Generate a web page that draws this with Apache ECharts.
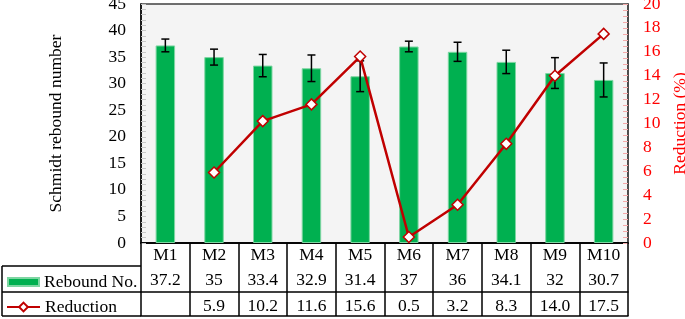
<!DOCTYPE html>
<html>
<head>
<meta charset="utf-8">
<script src="https://cdn.jsdelivr.net/npm/echarts@6/dist/echarts.min.js"></script>
<style>
  html, body { margin: 0; padding: 0; background: #fff; }
  #chart { width: 685px; height: 319px; }
</style>
</head>
<body>
<div id="chart"></div>
<script>
// categories and values
const mixes = ["M1", "M2", "M3", "M4", "M5", "M6", "M7", "M8", "M9", "M10"];
const reboundNo = [37.2, 35, 33.4, 32.9, 31.4, 37, 36, 34.1, 32, 30.7];
const reboundErr = [1.2, 1.5, 2.1, 2.5, 2.9, 1.0, 1.8, 2.2, 2.9, 3.2];
const reduction = [null, 5.9, 10.2, 11.6, 15.6, 0.5, 3.2, 8.3, 14.0, 17.5];

const FONT = "'Times New Roman', 'Liberation Serif', serif";
const FS = 17.5;
const GREEN = "#00B050";
const RED = "#C00000";

let chart = echarts.init(document.getElementById("chart"));

// error bar ranges built from the data
let errData = reboundNo.map(function (v, i) {
  return [i, v - reboundErr[i], v + reboundErr[i]];
});

// 表格各行文字
let reboundRow = reboundNo.map(function (v) { return String(v); });
let reductionRow = reduction.map(function (v) { return v == null ? "" : v.toFixed(1); });

const tableLine = { show: true, lineStyle: { color: "#000", width: 1.5 } };

let option = {
  backgroundColor: "#fff",
  animation: false,
  textStyle: { fontFamily: FONT },
  grid: {
    left: 141, right: 57, top: 4, bottom: 76,
    outerBoundsMode: "none",
    show: true,
    backgroundColor: "#F4F4F4",
    borderColor: "#404040",
    borderWidth: 1.5,
  },
  legend: [
    {
      data: [{ name: "Rebound No.", icon: "rect" }],
      left: 2, top: 268,
      itemWidth: 31, itemHeight: 8,
      textStyle: { fontFamily: FONT, fontSize: FS, color: "#000" },
      selectedMode: false,
    },
    {
      data: ["Reduction"],
      left: 1, top: 293,
      itemWidth: 33, itemHeight: 11,
      textStyle: { fontFamily: FONT, fontSize: FS, color: "#000" },
      selectedMode: false,
    },
  ],
  xAxis: [
    {
      type: "category",
      data: mixes,
      position: "bottom",
      axisLine: tableLine,
      axisTick: { show: true, length: 73, lineStyle: { color: "#000", width: 1.5 } },
      axisLabel: { fontFamily: FONT, fontSize: FS, color: "#000", margin: 3 },
    },
    {
      type: "category",
      data: reboundRow,
      position: "bottom",
      offset: 23,
      axisLine: tableLine,
      axisTick: { show: false },
      axisLabel: { fontFamily: FONT, fontSize: FS, color: "#000", margin: 5, interval: 0 },
    },
    {
      type: "category",
      data: reductionRow,
      position: "bottom",
      offset: 49,
      axisLine: tableLine,
      axisTick: { show: false },
      axisLabel: { fontFamily: FONT, fontSize: FS, color: "#000", margin: 5, interval: 0 },
    },
    {
      type: "category",
      data: mixes,
      position: "bottom",
      offset: 73,
      axisLine: tableLine,
      axisTick: { show: false },
      axisLabel: { show: false },
    },
  ],
  yAxis: [
    {
      type: "value",
      min: 0, max: 45, interval: 5,
      name: "Schmidt rebound number",
      nameLocation: "middle",
      nameGap: 76,
      nameTextStyle: { fontFamily: FONT, fontSize: FS, color: "#000" },
      axisLine: { show: true, lineStyle: { color: "#000", width: 1.5 } },
      axisTick: { show: true, inside: true, length: 5, lineStyle: { color: "#c8c8c8" } },
      minorTick: { show: true, splitNumber: 5, length: 5, lineStyle: { color: "#c8c8c8" } },
      axisLabel: { fontFamily: FONT, fontSize: FS, color: "#000", margin: 15 },
      splitLine: { show: false },
    },
    {
      type: "value",
      min: 0, max: 20, interval: 2,
      position: "right",
      name: "Reduction (%)",
      nameLocation: "middle",
      nameGap: 39,
      nameRotate: 90,
      nameTextStyle: { fontFamily: FONT, fontSize: FS, color: "#FF0000" },
      axisLine: { show: true, lineStyle: { color: "#404040", width: 1.5 } },
      axisTick: { show: true, inside: true, length: 5, lineStyle: { color: "#f4a8a8" } },
      minorTick: { show: true, splitNumber: 4, length: 5, lineStyle: { color: "#f4a8a8" } },
      axisLabel: { fontFamily: FONT, fontSize: FS, color: "#FF0000", margin: 15 },
      splitLine: { show: false },
    },
  ],
  series: [
    {
      name: "Rebound No.",
      type: "bar",
      data: reboundNo,
      barWidth: "40%",
      itemStyle: { color: GREEN, borderColor: "#7ed6a2", borderWidth: 1 },
      z: 2,
    },
    {
      name: "Rebound error",
      type: "custom",
      data: errData,
      z: 3,
      renderItem: function (params, api) {
        let lo = api.coord([api.value(0), api.value(1)]);
        let hi = api.coord([api.value(0), api.value(2)]);
        let half = 4;
        let st = { stroke: "#000", lineWidth: 1.5 };
        return {
          type: "group",
          children: [
            { type: "line", shape: { x1: hi[0], y1: hi[1], x2: lo[0], y2: lo[1] }, style: st },
            { type: "line", shape: { x1: hi[0] - half, y1: hi[1], x2: hi[0] + half, y2: hi[1] }, style: st },
            { type: "line", shape: { x1: lo[0] - half, y1: lo[1], x2: lo[0] + half, y2: lo[1] }, style: st },
          ],
        };
      },
    },
    {
      name: "Reduction",
      type: "line",
      yAxisIndex: 1,
      data: reduction,
      symbol: "diamond",
      symbolSize: 11,
      showAllSymbol: true,
      lineStyle: { color: RED, width: 2.5 },
      itemStyle: { color: "#fff", borderColor: RED, borderWidth: 1.5 },
      z: 4,
    },
  ],
  graphic: [
    // legend column borders
    { type: "line", shape: { x1: 2, y1: 266, x2: 141, y2: 266 }, style: { stroke: "#000", lineWidth: 1.5 } },
    { type: "line", shape: { x1: 2, y1: 292, x2: 141, y2: 292 }, style: { stroke: "#000", lineWidth: 1.5 } },
    { type: "line", shape: { x1: 2, y1: 316, x2: 141, y2: 316 }, style: { stroke: "#000", lineWidth: 1.5 } },
    { type: "line", shape: { x1: 2, y1: 266, x2: 2, y2: 316 }, style: { stroke: "#000", lineWidth: 1.5 } },
  ],
};

chart.setOption(option);
</script>
</body>
</html>
